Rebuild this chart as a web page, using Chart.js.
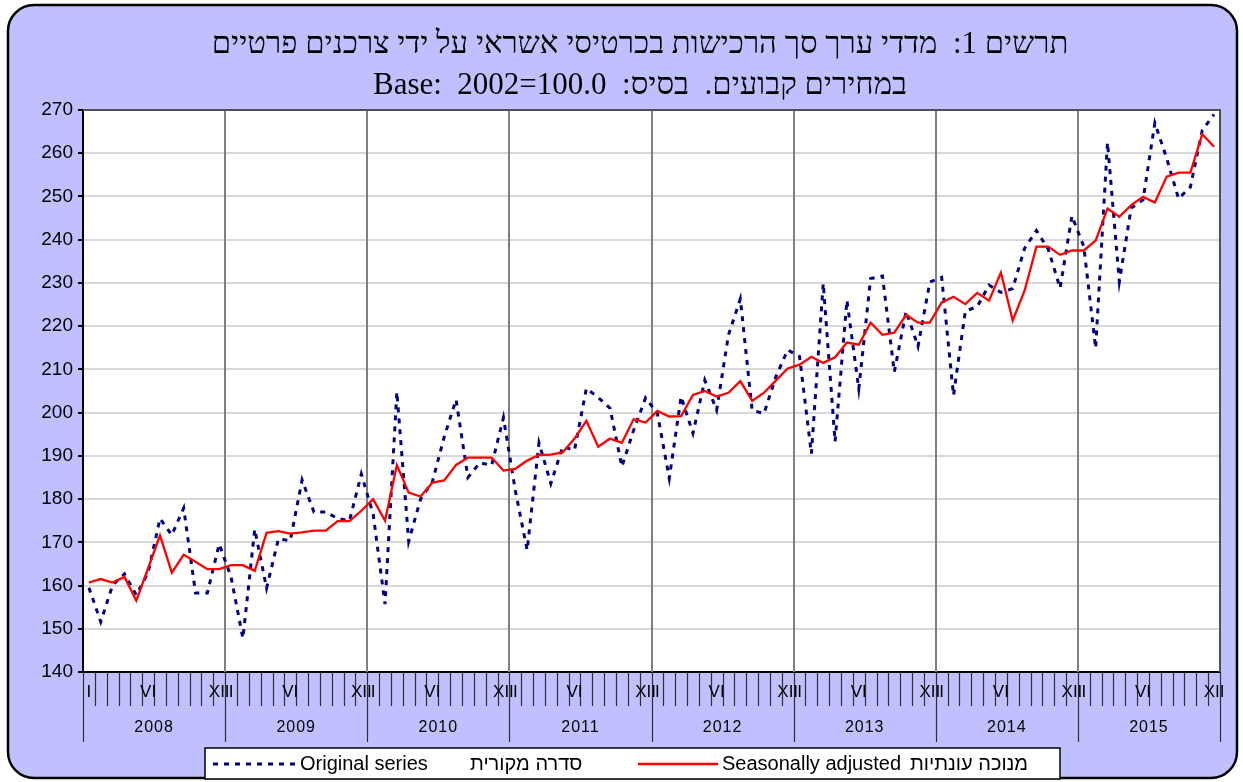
<!DOCTYPE html>
<html lang="he">
<head>
<meta charset="utf-8">
<title>מדדי ערך סך הרכישות בכרטיסי אשראי</title>
<script src="https://cdn.jsdelivr.net/npm/chart.js@4.4.1/dist/chart.umd.min.js"></script>
<style>
    html, body { margin: 0; padding: 0; background: #ffffff; }
    #grafico { display: block; }
</style>
</head>
<body>
<canvas id="grafico" width="1243" height="782"></canvas>
<script>
// ------------ Dados ------------ //

var years = ['2008', '2009', '2010', '2011', '2012', '2013', '2014', '2015'];
var monthNumerals = ['I', 'II', 'III', 'IV', 'V', 'VI', 'VII', 'VIII', 'IX', 'X', 'XI', 'XII'];
var shownMonths = ['I', 'VI', 'XII'];
var yTicks = [140, 150, 160, 170, 180, 190, 200, 210, 220, 230, 240, 250, 260, 270];

var titleLines = [
    'תרשים 1:  מדדי ערך סך הרכישות בכרטיסי אשראי על ידי צרכנים פרטיים',
    'במחירים קבועים.  בסיס:  \u200E2002=100.0\u200F  Base:\u200E'
];

var seriesNamesEn = ['Original series', 'Seasonally adjusted'];
var seriesNamesHe = ['סדרה מקורית', 'מנוכה עונתיות'];

var originalSeries = [
    159.5, 151.6, 160.1, 162.7, 157.8, 163.0, 175.5, 171.7, 177.9, 158.3, 158.3, 169.6,
    162.0, 147.8, 173.0, 159.4, 170.8, 170.4, 184.4, 177.0, 177.0, 175.5, 175.0, 185.8,
    176.5, 155.7, 204.8, 170.2, 180.0, 184.0, 194.4, 203.0, 185.0, 188.4, 187.8, 198.8,
    182.0, 168.2, 193.0, 183.6, 192.1, 191.3, 205.6, 203.5, 201.0, 187.5, 196.0, 203.4,
    199.8, 184.8, 203.7, 195.2, 207.5, 200.6, 218.0, 226.3, 200.5, 199.8, 208.3, 214.5,
    213.0, 190.5, 229.9, 193.3, 226.0, 205.5, 231.0, 231.6, 209.4, 223.5, 215.3, 230.2,
    231.3, 204.0, 223.5, 224.5, 229.5, 227.8, 228.7, 238.0, 242.1, 237.8, 228.8, 245.5,
    238.4, 214.9, 262.5, 230.3, 247.3, 249.2, 267.0, 258.8, 249.5, 252.2, 265.3, 269.0
];

var seasonallyAdjusted = [
    160.7, 161.5, 160.7, 162.0, 156.5, 164.0, 171.6, 163.0, 167.1, 165.5, 163.8, 163.8,
    164.7, 164.7, 163.4, 172.2, 172.6, 172.0, 172.3, 172.7, 172.7, 174.9, 174.9, 177.3,
    180.0, 175.0, 187.9, 181.5, 180.6, 183.8, 184.3, 187.9, 189.6, 189.6, 189.6, 186.6,
    187.0, 188.9, 190.2, 190.3, 190.8, 194.0, 198.1, 192.1, 194.0, 193.0, 198.5, 197.7,
    200.4, 199.1, 199.2, 204.1, 205.0, 203.7, 204.6, 207.3, 202.7, 204.6, 207.4, 210.2,
    211.1, 212.9, 211.5, 212.8, 216.2, 215.7, 220.8, 218.0, 218.5, 222.6, 220.8, 220.8,
    225.5, 226.8, 225.1, 227.7, 225.9, 232.4, 221.3, 228.2, 238.4, 238.4, 236.5, 237.5,
    237.5, 239.8, 247.2, 245.3, 248.0, 249.9, 248.6, 254.6, 255.5, 255.5, 264.4, 261.5
];

// ------------ Rótulos das categorias ------------ //

var labels = [];
years.forEach(function (ano) {
    monthNumerals.forEach(function (mes) {
        labels.push(mes + ' ' + ano);
    });
});

// ------------ Funções auxiliares ------------ //

function roundedRect(ctx, x, y, w, h, r) {
    ctx.beginPath();
    ctx.moveTo(x + r, y);
    ctx.arcTo(x + w, y, x + w, y + h, r);
    ctx.arcTo(x + w, y + h, x, y + h, r);
    ctx.arcTo(x, y + h, x, y, r);
    ctx.arcTo(x, y, x + w, y, r);
    ctx.closePath();
}

// borda de um mês k (0..96) a partir da escala x
function monthEdge(xScale, k) {
    var half = (xScale.getPixelForValue(1) - xScale.getPixelForValue(0)) / 2;
    return xScale.getPixelForValue(k) - half;
}

// ------------ Plugins ------------ //

var framePlugin = {
    id: 'frame',
    beforeDraw: function (chart) {
        var ctx = chart.ctx;
        var area = chart.chartArea;
        ctx.save();
        roundedRect(ctx, 8, 5, 1229, 773, 26);
        ctx.fillStyle = '#c0c0ff';
        ctx.fill();
        ctx.lineWidth = 2.5;
        ctx.strokeStyle = '#000000';
        ctx.stroke();
        ctx.fillStyle = '#ffffff';
        ctx.fillRect(area.left, area.top, area.right - area.left, area.bottom - area.top);
        ctx.restore();
    },
    beforeDatasetsDraw: function (chart) {
        var ctx = chart.ctx;
        var area = chart.chartArea;
        var xs = chart.scales.x;
        ctx.save();
        ctx.strokeStyle = '#808080';
        ctx.lineWidth = 2;
        for (var k = 12; k < labels.length; k += 12) {
            var px = Math.round(monthEdge(xs, k));
            ctx.beginPath();
            ctx.moveTo(px, area.top);
            ctx.lineTo(px, area.bottom);
            ctx.stroke();
        }
        ctx.restore();
    },
    afterDraw: function (chart) {
        var ctx = chart.ctx;
        var area = chart.chartArea;
        var xs = chart.scales.x;
        var k, px;
        ctx.save();

        // borda de cima e da direita
        ctx.strokeStyle = '#505050';
        ctx.lineWidth = 2;
        ctx.beginPath();
        ctx.moveTo(area.left, area.top);
        ctx.lineTo(area.right, area.top);
        ctx.lineTo(area.right, area.bottom);
        ctx.stroke();

        // marcas dos meses e separadores de ano
        ctx.strokeStyle = '#303030';
        ctx.lineWidth = 1.2;
        for (k = 0; k <= labels.length; k++) {
            px = Math.round(monthEdge(xs, k)) + 0.5;
            ctx.beginPath();
            ctx.moveTo(px, area.bottom);
            ctx.lineTo(px, k % 12 === 0 ? area.bottom + 70 : area.bottom + 34);
            ctx.stroke();
        }

        // rótulos dos meses
        ctx.fillStyle = '#000000';
        ctx.textAlign = 'center';
        ctx.textBaseline = 'middle';
        ctx.font = '17px "Liberation Sans", Arial, sans-serif';
        for (k = 0; k < labels.length; k++) {
            var numeral = monthNumerals[k % 12];
            if (shownMonths.indexOf(numeral) >= 0) {
                ctx.fillText(numeral, xs.getPixelForValue(k), area.bottom + 20);
            }
        }

        // rótulos dos anos
        ctx.font = '16px "Liberation Sans", Arial, sans-serif';
        ctx.letterSpacing = '1px';
        years.forEach(function (ano, i) {
            var centro = (monthEdge(xs, i * 12) + monthEdge(xs, i * 12 + 12)) / 2;
            ctx.fillText(ano, centro, area.bottom + 56);
        });
        ctx.letterSpacing = '0px';

        // título em hebraico (direção rtl)
        ctx.direction = 'rtl';
        ctx.font = '31px "Liberation Serif", "DejaVu Serif", serif';
        ctx.fillText(titleLines[0], 640, 45);
        ctx.fillText(titleLines[1], 640, 86);
        ctx.direction = 'ltr';

        // legenda
        var boxTop = area.bottom + 76;
        ctx.fillStyle = '#ffffff';
        ctx.fillRect(205, boxTop, 855, 31);
        ctx.strokeStyle = '#000000';
        ctx.lineWidth = 1.5;
        ctx.strokeRect(205, boxTop, 855, 31);

        var slots = [
            { from: 213, to: 295, en: 300, he: 470 },
            { from: 638, to: 718, en: 722, he: 910 }
        ];
        var midY = boxTop + 16;
        ctx.textAlign = 'left';
        ctx.font = '20px "Liberation Sans", Arial, sans-serif';
        chart.data.datasets.forEach(function (ds, i) {
            var s = slots[i];
            ctx.save();
            ctx.strokeStyle = ds.borderColor;
            ctx.lineWidth = ds.borderWidth;
            ctx.setLineDash(ds.borderDash || []);
            ctx.beginPath();
            ctx.moveTo(s.from, midY);
            ctx.lineTo(s.to, midY);
            ctx.stroke();
            ctx.restore();
            ctx.fillStyle = '#000000';
            ctx.fillText(seriesNamesEn[i], s.en, midY);
            ctx.fillText(seriesNamesHe[i], s.he, midY);
        });

        ctx.restore();
    }
};

// ------------ Configuração do gráfico ------------ //

var ctxGrafico = document.getElementById('grafico').getContext('2d');
var grafico = new Chart(ctxGrafico, {
    type: 'line',
    data: {
        labels: labels,
        datasets: [{
            label: seriesNamesEn[0],
            data: originalSeries,
            borderColor: '#000080',
            borderWidth: 3,
            borderDash: [5, 6],
            pointRadius: 0,
            tension: 0,
            fill: false,
            order: 1
        }, {
            label: seriesNamesEn[1],
            data: seasonallyAdjusted,
            borderColor: '#ff0000',
            borderWidth: 2.3,
            pointRadius: 0,
            tension: 0,
            fill: false,
            order: 0
        }]
    },
    options: {
        responsive: false,
        animation: false,
        layout: {
            padding: { left: 0, right: 23, top: 110, bottom: 35 }
        },
        plugins: {
            legend: { display: false },
            title: { display: false },
            tooltip: { enabled: false }
        },
        scales: {
            x: {
                type: 'category',
                offset: true,
                grid: { display: false },
                border: { display: true, color: '#000000', width: 2 },
                ticks: { display: false },
                afterFit: function (scale) { scale.height = 75; }
            },
            y: {
                min: yTicks[0],
                max: yTicks[yTicks.length - 1],
                ticks: {
                    stepSize: yTicks[1] - yTicks[0],
                    color: '#000000',
                    padding: 5,
                    font: { family: '"Liberation Sans", Arial, sans-serif', size: 19 }
                },
                grid: { color: '#d9d9d9', lineWidth: 2, tickColor: '#000000', tickLength: 5 },
                border: { color: '#000000', width: 2 },
                afterFit: function (scale) { scale.width = 83; }
            }
        }
    },
    plugins: [framePlugin]
});
</script>
</body>
</html>
